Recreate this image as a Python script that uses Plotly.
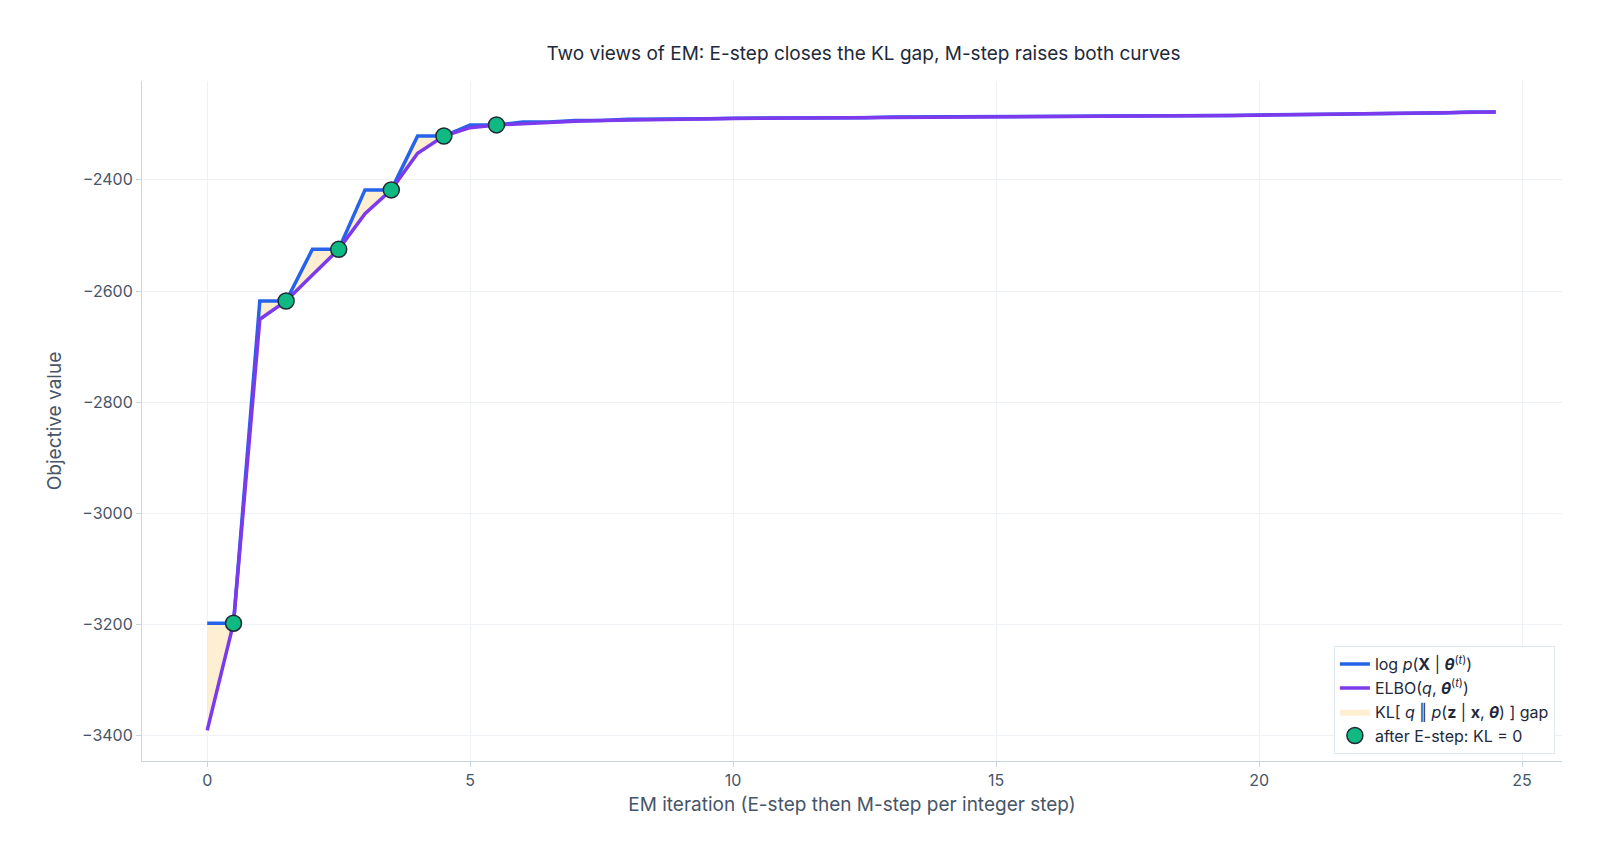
import plotly.graph_objects as go

iters = list(range(25))
log_lik = [-3198, -2618, -2525, -2418, -2321, -2301, -2296, -2293, -2291, -2290,
           -2289, -2288.5, -2288, -2287, -2286.5, -2286, -2285.5, -2285, -2284.5, -2284,
           -2283, -2282, -2281, -2279.5, -2278]
elbo_after_m = [-3391, -2651, -2571, -2461, -2352, -2306, -2299, -2294.5, -2292, -2290.5,
                -2289.5, -2288.8, -2288.2, -2287.5, -2286.8, -2286.2, -2285.8, -2285.2, -2284.8, -2284.2,
                -2283.5, -2282.5, -2281.5, -2280.2, -2278.8]
n_dots = 6

xs, blue, purple = [], [], []
for t in iters:
    xs += [t, t + 0.5]
    blue += [log_lik[t], log_lik[t]]
    purple += [elbo_after_m[t], log_lik[t]]

dot_x = [t + 0.5 for t in iters[:n_dots]]
dot_y = log_lik[:n_dots]

fig = go.Figure()
fig.add_trace(go.Scatter(x=xs, y=purple, mode="lines", line=dict(width=0), showlegend=False, hoverinfo="skip"))
fig.add_trace(go.Scatter(x=xs, y=blue, mode="lines", line=dict(width=0), fill="tonexty",
                         fillcolor="rgba(253,226,180,0.6)", legendrank=3,
                         name="KL[ <i>q</i> ‖ <i>p</i>(<b>z</b> | <b>x</b>, <b><i>θ</i></b>) ] gap"))
fig.add_trace(go.Scatter(x=xs, y=blue, mode="lines", line=dict(color="#2563eb", width=3.5), legendrank=1,
                         name="log <i>p</i>(<b>X</b> | <b><i>θ</i></b><sup>(<i>t</i>)</sup>)"))
fig.add_trace(go.Scatter(x=xs, y=purple, mode="lines", line=dict(color="#7c3aed", width=3.5), legendrank=2,
                         name="ELBO(<i>q</i>, <b><i>θ</i></b><sup>(<i>t</i>)</sup>)"))
fig.add_trace(go.Scatter(x=dot_x, y=dot_y, mode="markers", legendrank=4,
                         marker=dict(size=16, color="#10b981", line=dict(color="#1f2937", width=1.5)),
                         name="after E-step: KL = 0"))

fig.update_layout(
    width=1599, height=863, template="plotly_white",
    font=dict(family="Inter, Noto Sans, sans-serif", color="#475569", size=16),
    title=dict(text="Two views of EM: E-step closes the KL gap, M-step raises both curves",
               x=0.535, y=0.955, font=dict(size=19, color="#1e293b")),
    margin=dict(l=134, r=45, t=73, b=110),
    legend=dict(x=0.995, y=0.01, xanchor="right", yanchor="bottom", bgcolor="rgba(255,255,255,0.9)",
                traceorder="normal", tracegroupgap=0,
                bordercolor="#e2e8f0", borderwidth=1, font=dict(size=16, color="#1e293b")),
    plot_bgcolor="white",
)
fig.update_xaxes(range=[-1.24, 25.76], dtick=5, showline=True, linecolor="#cbd5e1", gridcolor="#eef2f7",
                 zeroline=False, ticks="outside", tickcolor="#cbd5e1",
                 title=dict(text="EM iteration (E-step then M-step per integer step)", font=dict(size=19), standoff=8))
fig.update_yaxes(range=[-3446, -2222], dtick=200, showline=True, linecolor="#cbd5e1", gridcolor="#eef2f7",
                 zeroline=False, ticks="outside", tickcolor="#cbd5e1",
                 title=dict(text="Objective value", font=dict(size=19)))
fig.write_html("out.html")
